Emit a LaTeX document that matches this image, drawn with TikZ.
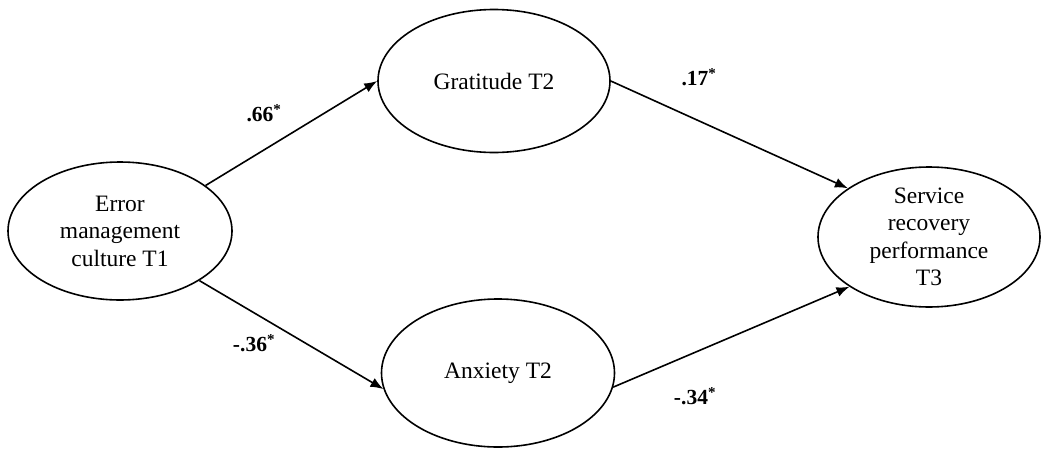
\documentclass[tikz,border=0pt]{standalone}
\usepackage{fontspec}
\setmainfont{Liberation Serif}
\usetikzlibrary{shapes.geometric,arrows.meta}
\begin{document}
\begin{tikzpicture}[x=1pt,y=-1pt,
  latent/.style={ellipse,draw,line width=1.6pt,inner sep=0pt,align=center,
    font=\fontsize{23.5}{27.5}\selectfont},
  path/.style={line width=1.6pt,-{Latex[length=13pt,width=10pt]}},
  coef/.style={font=\fontsize{21.5}{24}\selectfont\bfseries,inner sep=0pt}]
\useasboundingbox (0,0) rectangle (1042,461);
\node[latent,minimum width=224pt,minimum height=138pt] (emc) at (120,231) {Error\\management\\culture T1};
\node[latent,minimum width=232pt,minimum height=143pt] (grat) at (494,81) {Gratitude T2};
\node[latent,minimum width=233pt,minimum height=148pt] (anx) at (498,373) {Anxiety T2};
\node[latent,minimum width=222pt,minimum height=140pt] (srv) at (929,237) {Service\\recovery\\performance\\T3};
\draw[path] (emc.28) -- (grat.west);
\draw[path] (emc.-32) -- (anx.188);
\draw[path] (grat.east) -- (srv.149);
\draw[path] (anx.-7) -- (srv.212);
\node[coef] (l1) at (264,113) {.66\textsuperscript{*}};
\node[coef] (l2) at (254,343) {-.36\textsuperscript{*}};
\node[coef] (l3) at (699,77) {.17\textsuperscript{*}};
\node[coef] (l4) at (695,396) {-.34\textsuperscript{*}};
\end{tikzpicture}
\end{document}
